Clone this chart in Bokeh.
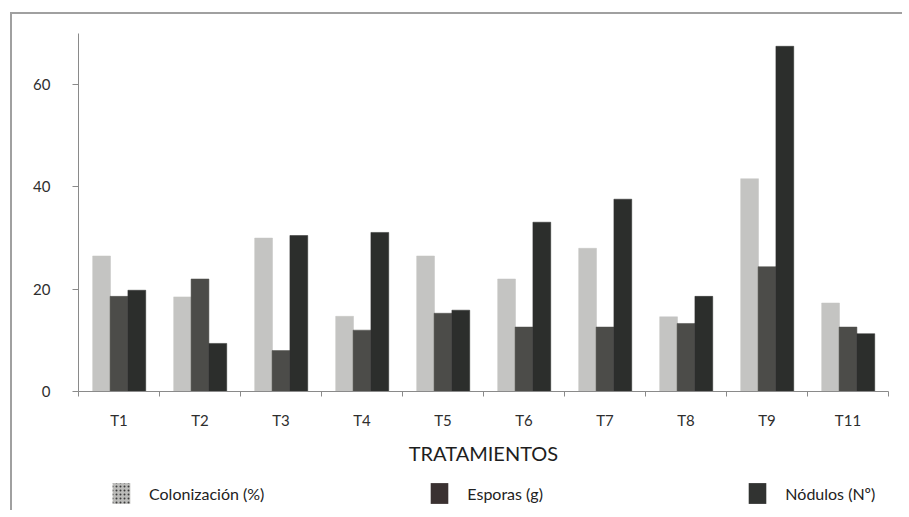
from bokeh.plotting import figure
from bokeh.layouts import column
from bokeh.models import Range1d, FixedTicker, Legend, LegendItem, ColumnDataSource
from bokeh.embed import file_html
from bokeh.resources import INLINE

tratamientos = ["T1", "T2", "T3", "T4", "T5", "T6", "T7", "T8", "T9", "T11"]
colonizacion = [26.5, 18.5, 30.0, 14.7, 26.5, 22.0, 28.0, 14.6, 41.6, 17.3]
esporas = [18.6, 22.0, 8.0, 12.0, 15.3, 12.6, 12.6, 13.3, 24.4, 12.6]
nodulos = [19.8, 9.4, 30.5, 31.1, 15.9, 33.1, 37.6, 18.6, 67.5, 11.3]
series_names = ["Colonización (%)", "Esporas (g)", "Nódulos (Nº)"]
y_ticks = [0, 20, 40, 60]
x_title = "TRATAMIENTOS"

FONT = "Lato"
TXT = "#2e2e2e"
AX = "#8a8a8a"
bar_colors = ["#c4c4c2", "#4c4c49", "#2c2e2c"]
legend_colors = ["#bcbcba", "#3a3131", "#313331"]
offsets = [-0.215, 0.0, 0.22]
bar_w = 0.22

n = len(tratamientos)
centers = [i + 0.5 for i in range(n)]

W = 890
p = figure(width=W, height=456, output_backend="svg", toolbar_location=None,
           x_range=Range1d(0, n), y_range=Range1d(0, 70),
           min_border_left=66, min_border_right=14, min_border_top=19,
           min_border_bottom=79)
p.outline_line_color = None
p.xgrid.visible = False
p.ygrid.visible = False
p.background_fill_color = "white"
p.border_fill_color = "white"

for vals, col, off in zip([colonizacion, esporas, nodulos], bar_colors, offsets):
    src = ColumnDataSource(dict(x=[c + off for c in centers], top=vals))
    p.vbar(x="x", top="top", bottom=0, width=bar_w, source=src,
           fill_color=col, line_color=col, line_width=0.5)

xa = p.xaxis[0]
xa.ticker = FixedTicker(ticks=centers, minor_ticks=list(range(n + 1)))
xa.major_label_overrides = {c: t for c, t in zip(centers, tratamientos)}
xa.major_tick_out = 0
xa.major_tick_in = 0
xa.minor_tick_out = 5
xa.minor_tick_in = 0
xa.minor_tick_line_color = AX
xa.axis_line_color = AX
xa.major_label_standoff = 14
xa.major_label_text_font = FONT
xa.major_label_text_font_size = "15px"
xa.major_label_text_color = TXT
xa.axis_label = x_title
xa.axis_label_text_font = FONT
xa.axis_label_text_font_size = "20px"
xa.axis_label_text_font_style = "normal"
xa.axis_label_text_color = "#1e1e1e"
xa.axis_label_standoff = 9

ya = p.yaxis[0]
ya.ticker = FixedTicker(ticks=y_ticks)
ya.minor_tick_line_color = None
ya.major_tick_out = 6
ya.major_tick_in = 0
ya.major_tick_line_color = AX
ya.axis_line_color = AX
ya.major_label_standoff = 22
ya.major_label_text_font = FONT
ya.major_label_text_font_size = "15px"
ya.major_label_text_color = TXT

# legend strip
lf = figure(width=W, height=40, output_backend="svg", toolbar_location=None,
            x_range=Range1d(0, 1), y_range=Range1d(0, 1),
            x_axis_location=None, y_axis_location=None,
            min_border=0)
lf.outline_line_color = None
lf.xgrid.visible = False
lf.ygrid.visible = False
lf.border_fill_color = "white"

nan = float("nan")
leg_r = [
    lf.vbar(x=[0.5], top=[nan], width=0.1, fill_color=legend_colors[0], line_color=None,
            hatch_pattern="dot", hatch_color="#3c3c3c", hatch_scale=4, hatch_weight=2),
    lf.vbar(x=[0.5], top=[nan], width=0.1, fill_color=legend_colors[1], line_color=None),
    lf.vbar(x=[0.5], top=[nan], width=0.1, fill_color=legend_colors[2], line_color=None),
]

legend = Legend(items=[LegendItem(label=s, renderers=[r]) for s, r in zip(series_names, leg_r)],
                orientation="horizontal", location=(32, 4),
                glyph_width=22, glyph_height=26, label_standoff=17, label_width=115,
                spacing=164, padding=2, margin=0,
                label_text_font=FONT, label_text_font_size="16px", label_text_color="#222222",
                border_line_color=None, background_fill_alpha=0)
lf.add_layout(legend)

layout = column(p, lf, spacing=0)
layout.styles = {"margin-left": "10px", "margin-top": "12px",
                 "border-top": "2px solid #a0a0a0", "border-left": "2px solid #a0a0a0"}

open("out.html", "w").write(file_html(layout, INLINE))
